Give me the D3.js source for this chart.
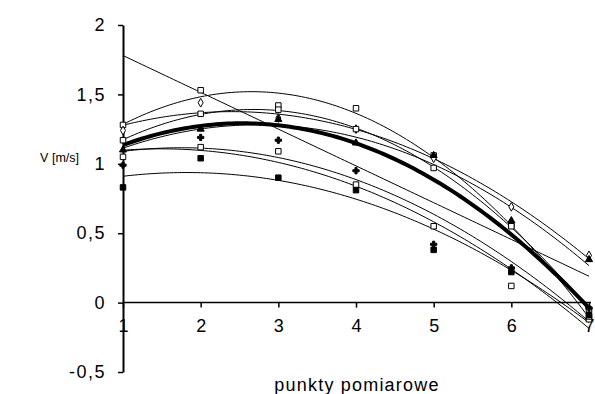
<!DOCTYPE html>
<html>
<head>
<meta charset="utf-8">
<script src="https://cdn.jsdelivr.net/npm/d3@7"></script>
<style>
  body { margin: 0; background: #fff; }
  svg text { font-family: "Liberation Sans", Arial, sans-serif; fill: #000; }
</style>
</head>
<body>
<div id="chart"></div>
<script>
// punkty pomiarowe 1..7
var punkty = [1, 2, 3, 4, 5, 6, 7];
var yTicks = [-0.5, 0, 0.5, 1, 1.5, 2];

// pomiary V [m/s] (markery)
var seriaA = [1.28, 1.53, 1.42, 1.40, 1.06, 0.56, -0.12];
var seriaB = [1.24, 1.44, 1.33, 1.25, 1.04, 0.69, 0.34];
var seriaC = [1.17, 1.36, 1.39, 1.25, 0.97, 0.55, -0.05];
var seriaD = [1.05, 1.12, 1.09, 0.85, 0.55, 0.12, -0.10];
var seriaE = [0.83, 1.04, 0.90, 0.81, 0.38, 0.22, -0.09];
var seriaF = [0.99, 1.19, 1.17, 0.95, 0.42, 0.25, -0.04];
var seriaG = [1.10, 1.25, 1.32, 1.15, 1.06, 0.59, 0.31];
// srednia (gruba linia) i seria liniowa (bez markerow)
var srednia = [1.13, 1.28, 1.28, 1.15, 0.87, 0.50, -0.04];
var liniowa = [1.78, 1.515, 1.25, 0.985, 0.72, 0.455, 0.19];

var serie = [
  { v: seriaA, sym: d3.symbolSquare, fill: false },
  { v: seriaB, sym: d3.symbolDiamond, fill: false },
  { v: seriaC, sym: d3.symbolSquare, fill: false },
  { v: seriaD, sym: d3.symbolSquare, fill: false },
  { v: seriaE, sym: d3.symbolSquare, fill: true },
  { v: seriaF, sym: d3.symbolCross, fill: true },
  { v: seriaG, sym: d3.symbolTriangle, fill: true }
];

var width = 595, height = 394;
var x = d3.scaleLinear().domain([1, 7]).range([123, 589]);
var y = d3.scaleLinear().domain([-0.5, 2]).range([372, 25]);
var fmt = function(d) { return String(d).replace('.', ','); };

// trend wielomianowy (stopien 1 lub 2), najmniejsze kwadraty
function fit(vals, deg) {
  var n = deg + 1, A = [], b = [];
  for (var i = 0; i < n; i++) {
    A.push([]); b.push(0);
    for (var j = 0; j < n; j++) A[i].push(0);
  }
  punkty.forEach(function(px, k) {
    for (var i = 0; i < n; i++) {
      b[i] += vals[k] * Math.pow(px, i);
      for (var j = 0; j < n; j++) A[i][j] += Math.pow(px, i + j);
    }
  });
  // eliminacja Gaussa
  for (var c = 0; c < n; c++) {
    for (var r = c + 1; r < n; r++) {
      var f = A[r][c] / A[c][c];
      for (var j = c; j < n; j++) A[r][j] -= f * A[c][j];
      b[r] -= f * b[c];
    }
  }
  var w = new Array(n);
  for (var i = n - 1; i >= 0; i--) {
    var s = b[i];
    for (var j = i + 1; j < n; j++) s -= A[i][j] * w[j];
    w[i] = s / A[i][i];
  }
  return function(t) {
    var s = 0;
    for (var i = 0; i < n; i++) s += w[i] * Math.pow(t, i);
    return s;
  };
}

var gesto = d3.range(1, 7.0001, 0.05);
var line = d3.line()
  .x(function(d) { return x(d[0]); })
  .y(function(d) { return y(d[1]); });

var svg = d3.select('#chart').append('svg')
  .attr('width', width)
  .attr('height', height);

// osie
var yAxis = d3.axisLeft(y).tickValues(yTicks).tickSize(5).tickSizeOuter(0).tickFormat(fmt);
var gy = svg.append('g').attr('transform', 'translate(' + x(1) + ',0)').call(yAxis);
gy.select('.domain').attr('stroke', '#000').attr('stroke-width', 2);
gy.selectAll('.tick line').attr('stroke', '#000').attr('stroke-width', 1.5);
gy.selectAll('.tick text').attr('x', -17).style('font-size', '18px').style('letter-spacing', '1.5px');

var xAxis = d3.axisBottom(x).tickValues(punkty).tickSize(5).tickSizeOuter(0).tickFormat(d3.format('d'));
var gx = svg.append('g').attr('transform', 'translate(0,' + y(0) + ')').call(xAxis);
gx.select('.domain').attr('stroke', '#000').attr('stroke-width', 1.5).attr('d', 'M' + x(1) + ',0H' + (x(7) + 2));
gx.selectAll('.tick line').attr('stroke', '#000').attr('stroke-width', 1.5);
gx.selectAll('.tick text').attr('y', 17).style('font-size', '18px');

svg.append('text').attr('x', 79).attr('y', 162).attr('text-anchor', 'end')
  .style('font-size', '12.5px').text('V [m/s]');
svg.append('text').attr('x', 357).attr('y', 391).attr('text-anchor', 'middle')
  .style('font-size', '18px').style('letter-spacing', '1.2px').text('punkty pomiarowe');

// linie trendu
serie.forEach(function(s) {
  var f = fit(s.v, 2);
  svg.append('path')
    .attr('d', line(gesto.map(function(t) { return [t, f(t)]; })))
    .attr('fill', 'none').attr('stroke', '#000').attr('stroke-width', 1);
});
var fl = fit(liniowa, 1);
svg.append('path')
  .attr('d', line(gesto.map(function(t) { return [t, fl(t)]; })))
  .attr('fill', 'none').attr('stroke', '#000').attr('stroke-width', 1);
var fs = fit(srednia, 2);
svg.append('path')
  .attr('d', line(gesto.map(function(t) { return [t, fs(t)]; })))
  .attr('fill', 'none').attr('stroke', '#000').attr('stroke-width', 4);

// markery
serie.forEach(function(s) {
  svg.selectAll(null)
    .data(s.v)
    .enter()
    .append('path')
      .attr('d', d3.symbol().type(s.sym).size(s.sym === d3.symbolSquare ? 30 : 22))
      .attr('transform', function(d, i) { return 'translate(' + x(punkty[i]) + ',' + y(d) + ')'; })
      .attr('fill', s.fill ? '#000' : '#fff')
      .attr('stroke', '#000')
      .attr('stroke-width', 1);
});
</script>
</body>
</html>
